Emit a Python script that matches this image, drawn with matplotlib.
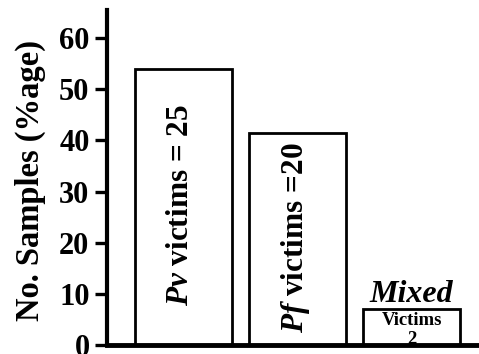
import matplotlib
matplotlib.use("Agg")
import matplotlib.pyplot as plt

plt.rcParams["font.family"] = "Liberation Serif"
plt.rcParams["font.weight"] = "bold"
plt.rcParams["mathtext.fontset"] = "custom"
plt.rcParams["mathtext.it"] = "Liberation Serif:italic:bold"
plt.rcParams["mathtext.rm"] = "Liberation Serif:bold"

# data
groups = ["Pv", "Pf", "Mixed"]
percent = [54, 41.5, 7]
bar_labels = [r"$\mathit{Pv}$ victims = 25", r"$\mathit{Pf}$ victims =20", None]
yticks = [0, 10, 20, 30, 40, 50, 60]

fig = plt.figure(figsize=(4.79, 3.54), dpi=100)
ax = fig.add_axes([107 / 479, 9 / 354, 1 - 107 / 479, 335 / 354])

x = range(len(groups))
ax.bar(x, percent, width=0.85, color="white", edgecolor="black", linewidth=2)

offsets = [-0.03, -0.02]
for i, lab in enumerate(bar_labels):
    if lab:
        ax.text(i + offsets[i], percent[i] / 2 + 0.3, lab, rotation=90,
                ha="center", va="center", fontsize=22.5, fontweight="bold")

# small mixed bar: label on top and inside
ax.text(2, percent[2] + 1.4, "Mixed", ha="center", va="baseline", fontsize=23,
        fontstyle="italic", fontweight="bold")
ax.text(2, percent[2] - 0.5, "Victims", ha="center", va="top", fontsize=13.5,
        fontweight="bold")
ax.text(2, percent[2] - 4.3, "2", ha="center", va="top", fontsize=13.5,
        fontweight="bold")

ax.set_xlim(-0.67, 2.59)
ax.set_ylim(0, 65.5)
ax.set_yticks(yticks)
ax.set_xticks([])
ax.tick_params(axis="y", direction="out", length=8.6, width=2.4, labelsize=22, pad=4)
for t in ax.get_yticklabels():
    t.set_fontweight("bold")
ax.spines["top"].set_visible(False)
ax.spines["right"].set_visible(False)
ax.spines["left"].set_linewidth(3)
ax.spines["bottom"].set_linewidth(3.5)
ax.set_ylabel("No. Samples (%age)", fontsize=23.5, fontweight="bold",
              va="center")
ax.yaxis.set_label_coords(-0.206, 0.49)

fig.savefig("out.png", dpi=100)
